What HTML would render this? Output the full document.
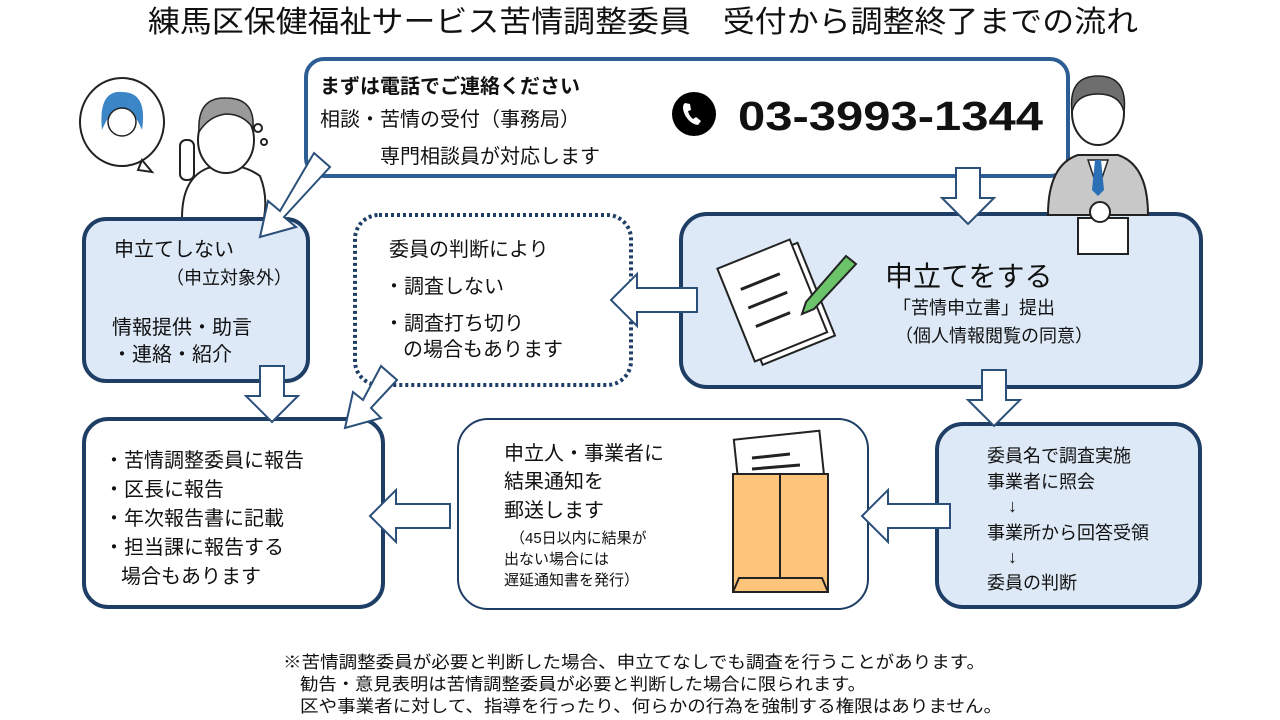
<!DOCTYPE html>
<html><head><meta charset="utf-8"><style>
html,body{margin:0;padding:0;background:#fff}
svg{display:block}
text{font-family:"Liberation Sans","Noto Sans CJK JP",sans-serif;fill:#111}
</style></head><body>
<svg width="1280" height="720" viewBox="0 0 1280 720" xmlns="http://www.w3.org/2000/svg">
<text x="148" y="32" font-size="30" textLength="990" lengthAdjust="spacingAndGlyphs">練馬区保健福祉サービス苦情調整委員　受付から調整終了までの流れ</text>

<!-- person left (behind box) -->
<ellipse cx="122" cy="122" rx="42" ry="44" fill="#fff" stroke="#222" stroke-width="2"/>
<path d="M142 160 l10 12 l-14 -2 z" fill="#fff" stroke="#222" stroke-width="2"/>
<path d="M102 130 q-4 -40 20 -38 q26 0 20 38 q-8 -20 -20 -22 q-12 2 -20 22z" fill="#3c86c8"/>
<circle cx="122" cy="122" r="14" fill="#fff" stroke="#222" stroke-width="1.5"/>
<path d="M182 218 q0 -40 26 -50 q30 -8 52 8 q8 20 4 42" fill="#fff" stroke="#222" stroke-width="2"/>
<ellipse cx="226" cy="140" rx="28" ry="33" fill="#fff" stroke="#222" stroke-width="2"/>
<path d="M199 132 q-2 -35 27 -34 q29 0 27 30 q-10 -14 -27 -14 q-17 2 -27 18z" fill="#9a9a9a" stroke="#222" stroke-width="1.5"/>
<rect x="180" y="140" width="14" height="40" rx="6" fill="#fff" stroke="#222" stroke-width="2"/>
<circle cx="258" cy="128" r="4" fill="none" stroke="#222" stroke-width="2"/>
<circle cx="264" cy="142" r="3" fill="none" stroke="#222" stroke-width="2"/>

<!-- top box -->
<rect x="306" y="59" width="762" height="117" rx="18" fill="#fff" stroke="#2c5d93" stroke-width="4"/>
<text x="320" y="93" font-size="20" font-weight="bold">まずは電話でご連絡ください</text>
<text x="320" y="126" font-size="20">相談・苦情の受付（事務局）</text>
<text x="380" y="163" font-size="20">専門相談員が対応します</text>
<circle cx="694" cy="114" r="22" fill="#000"/>
<path d="M685 103 q-4 3 0 12 q5 9 13 10 l3 -4 l-5 -4 l-3 2 q-4 -3 -5 -8 l3 -1 l-1 -6 z" fill="#fff"/>
<text x="738" y="130" font-size="41" font-weight="bold" textLength="305" lengthAdjust="spacingAndGlyphs">03-3993-1344</text>

<!-- box 申立てしない -->
<rect x="84" y="219" width="224" height="162" rx="22" fill="#dde9f6" stroke="#1f3e66" stroke-width="4"/>
<text x="114" y="256" font-size="20">申立てしない</text>
<text x="166" y="284" font-size="18">（申立対象外）</text>
<text x="112" y="334" font-size="20">情報提供・助言</text>
<text x="112" y="361" font-size="20">・連絡・紹介</text>

<!-- dotted box -->
<rect x="355" y="215" width="276" height="170" rx="24" fill="#fff" stroke="#1f3e66" stroke-width="4" stroke-dasharray="3 3"/>
<text x="389" y="256" font-size="20">委員の判断により</text>
<text x="384" y="293" font-size="20">・調査しない</text>
<text x="384" y="330" font-size="20">・調査打ち切り</text>
<text x="403" y="356" font-size="20">の場合もあります</text>

<!-- box 申立てをする -->
<rect x="681" y="214" width="520" height="173" rx="26" fill="#dde9f6" stroke="#1f3e66" stroke-width="4"/>
<g transform="translate(728,236) rotate(-22 50 60)">
<rect x="10" y="18" width="78" height="100" fill="#fff" stroke="#222" stroke-width="2"/>
<rect x="4" y="12" width="78" height="100" fill="#fff" stroke="#222" stroke-width="2"/>
<line x1="18" y1="40" x2="60" y2="40" stroke="#222" stroke-width="3"/>
<line x1="18" y1="60" x2="60" y2="60" stroke="#222" stroke-width="3"/>
<line x1="18" y1="80" x2="55" y2="80" stroke="#222" stroke-width="3"/>
</g>
<path d="M846 256 l10 8 l-42 45 l-12 5 l4 -12 z" fill="#6cc46a" stroke="#222" stroke-width="2"/>
<text x="885" y="286" font-size="28">申立てをする</text>
<text x="893" y="314" font-size="18">「苦情申立書」提出</text>
<text x="895" y="342" font-size="18">（個人情報閲覧の同意）</text>

<!-- person right -->
<path d="M1048 215 q0 -50 30 -60 h40 q30 10 30 60 z" fill="#c8c8c8" stroke="#222" stroke-width="2"/>
<path d="M1088 160 l10 30 l10 -30 z" fill="#fff" stroke="#222" stroke-width="1.5"/>
<path d="M1095 160 h6 l3 30 l-6 6 l-6 -6 z" fill="#2b6fb6"/>
<ellipse cx="1098" cy="113" rx="26" ry="32" fill="#fff" stroke="#222" stroke-width="2"/>
<path d="M1072 112 q-4 -36 26 -36 q30 0 26 36 q-4 -18 -26 -18 q-22 0 -26 18z" fill="#6e6e6e" stroke="#222" stroke-width="1.5"/>
<rect x="1078" y="218" width="50" height="36" fill="#fff" stroke="#222" stroke-width="2"/>
<circle cx="1100" cy="212" r="10" fill="#fff" stroke="#222" stroke-width="2"/>

<!-- bottom left -->
<rect x="84" y="419" width="299" height="188" rx="24" fill="#fff" stroke="#1f3e66" stroke-width="4"/>
<text x="104" y="467" font-size="20">・苦情調整委員に報告</text>
<text x="104" y="496" font-size="20">・区長に報告</text>
<text x="104" y="525" font-size="20">・年次報告書に記載</text>
<text x="104" y="554" font-size="20">・担当課に報告する</text>
<text x="121" y="583" font-size="20">場合もあります</text>

<!-- bottom middle -->
<rect x="458" y="419" width="410" height="190" rx="30" fill="#fff" stroke="#1f3e66" stroke-width="2"/>
<text x="504" y="460" font-size="20">申立人・事業者に</text>
<text x="504" y="488" font-size="20">結果通知を</text>
<text x="504" y="517" font-size="20">郵送します</text>
<text x="510" y="543" font-size="15">（45日以内に結果が</text>
<text x="504" y="564" font-size="15">出ない場合には</text>
<text x="504" y="585" font-size="15">遅延通知書を発行）</text>
<rect x="736" y="435" width="86" height="45" fill="#fff" stroke="#222" stroke-width="2" transform="rotate(-6 780 458)"/>
<line x1="752" y1="458" x2="790" y2="454" stroke="#222" stroke-width="3"/>
<line x1="752" y1="469" x2="800" y2="465" stroke="#222" stroke-width="3"/>
<rect x="733" y="474" width="95" height="118" fill="#fdc47c" stroke="#222" stroke-width="2"/>
<line x1="780" y1="474" x2="780" y2="578" stroke="#222" stroke-width="2"/>
<path d="M733 592 l6 -14 h83 l6 14" fill="none" stroke="#222" stroke-width="2"/>

<!-- bottom right -->
<rect x="937" y="424" width="263" height="183" rx="26" fill="#dde9f6" stroke="#1f3e66" stroke-width="4"/>
<text x="987" y="462" font-size="18">委員名で調査実施</text>
<text x="987" y="488" font-size="18">事業者に照会</text>
<text x="1008" y="512" font-size="18">↓</text>
<text x="987" y="539" font-size="18">事業所から回答受領</text>
<text x="1008" y="563" font-size="18">↓</text>
<text x="987" y="589" font-size="18">委員の判断</text>

<!-- arrows -->
<g fill="#fff" stroke="#2a4f78" stroke-width="2">
<path d="M956 168 h24 v30 h14 l-26 26 l-26 -26 h14 z"/>
<path d="M982 370 h24 v30 h14 l-26 26 l-26 -26 h14 z"/>
<path d="M260 366 h24 v30 h14 l-26 26 l-26 -26 h14 z"/>
<path d="M697 288 v24 h-60 v14 l-26 -26 l26 -26 v14 z"/>
<path d="M450 504 v24 h-54 v14 l-26 -26 l26 -26 v14 z"/>
<path d="M950 504 v24 h-62 v14 l-26 -26 l26 -26 v14 z"/>
<path d="M314 153 l16 14 l-46 50 l12 10 l-36 10 l8 -36 l12 10 z"/>
<path d="M381 366 l16 14 l-26 28 l10 10 l-36 10 l8 -36 l10 8 z"/>
</g>

<text x="283" y="668" font-size="17" textLength="702" lengthAdjust="spacingAndGlyphs">※苦情調整委員が必要と判断した場合、申立てなしでも調査を行うことがあります。</text>
<text x="300" y="690" font-size="17" textLength="566" lengthAdjust="spacingAndGlyphs">勧告・意見表明は苦情調整委員が必要と判断した場合に限られます。</text>
<text x="300" y="712" font-size="17" textLength="702" lengthAdjust="spacingAndGlyphs">区や事業者に対して、指導を行ったり、何らかの行為を強制する権限はありません。</text>
</svg>
</body></html>
